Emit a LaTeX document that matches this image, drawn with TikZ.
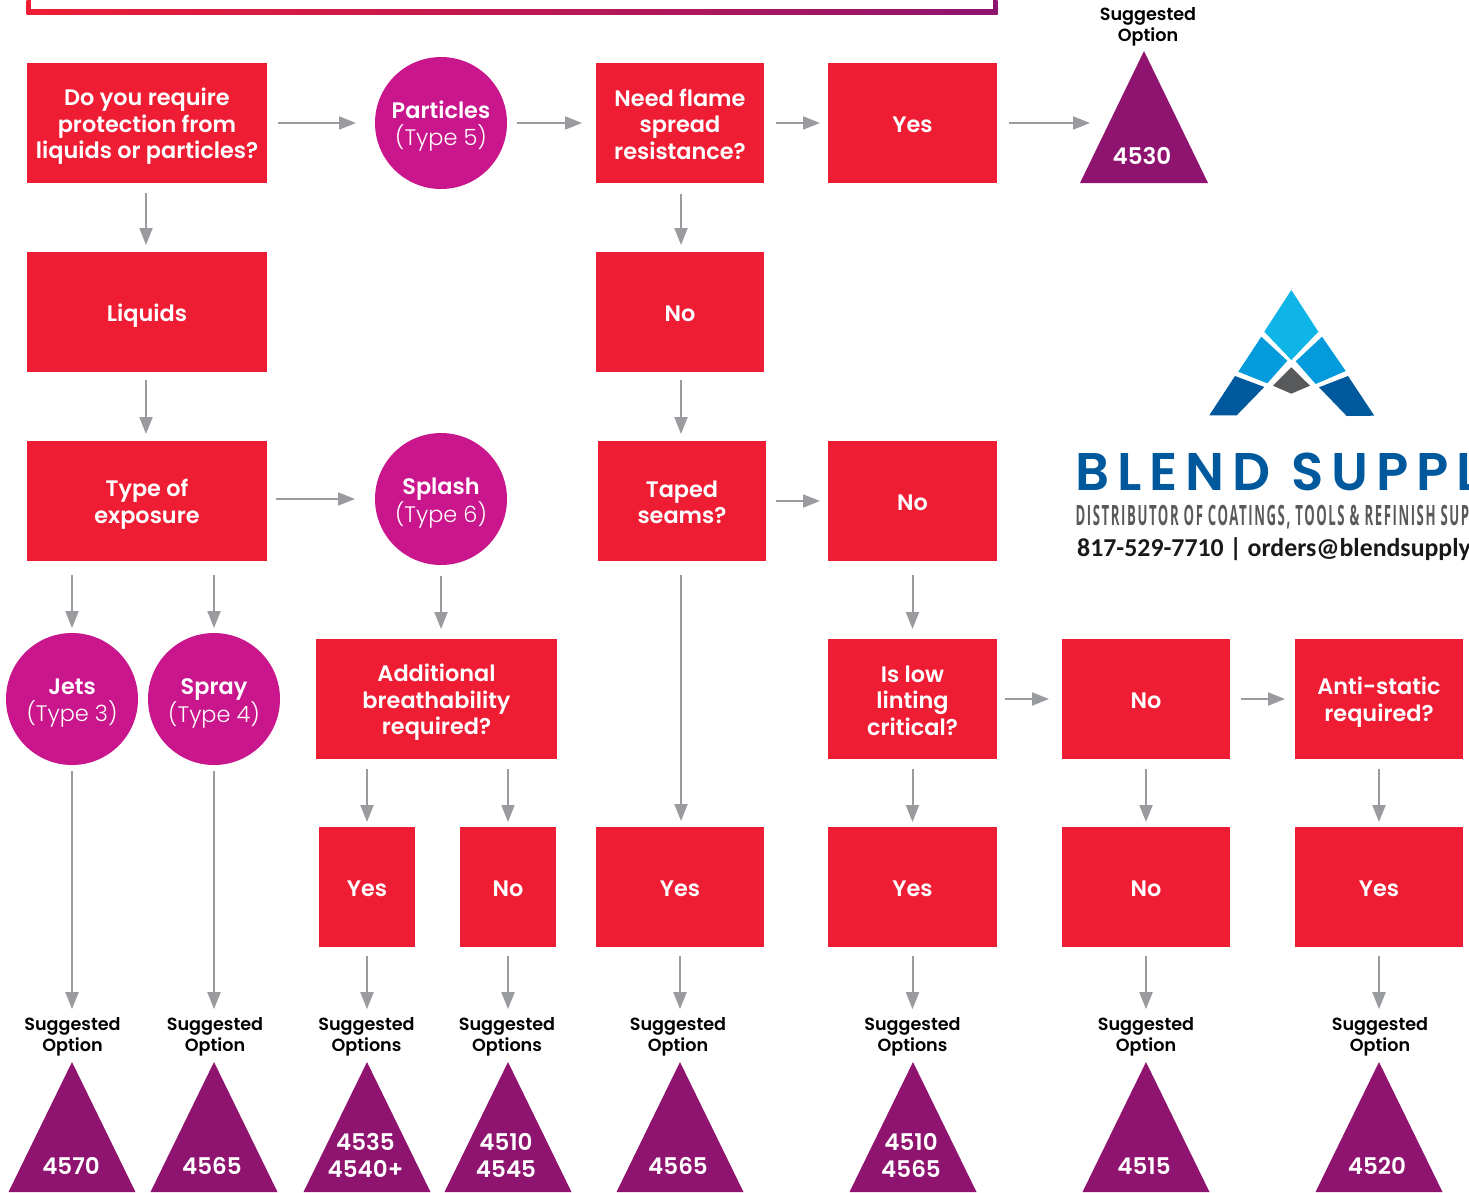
\documentclass[tikz,border=0pt]{standalone}
\usepackage{fontspec}
\usetikzlibrary{arrows.meta}
\setmainfont{Poppins}[BoldFont={Poppins SemiBold}]
\newfontfamily\lightfont{Poppins Light}
\newfontfamily\logofont[LetterSpace=15]{Poppins SemiBold}
\newfontfamily\tagfont[LetterSpace=12]{Open Sans}
\newfontfamily\phonefont{Carlito}
\definecolor{redbox}{HTML}{EE1D34}
\definecolor{magcirc}{HTML}{C9168C}
\definecolor{purptri}{HTML}{8F1470}
\definecolor{arrgray}{HTML}{9A9B9E}
\definecolor{logoa}{HTML}{0FB5E6}
\definecolor{logob}{HTML}{039BDC}
\definecolor{logoc}{HTML}{00599D}
\definecolor{logod}{HTML}{58595B}
\tikzset{
 boxtxt/.style={font=\fontsize{22.4}{26.6}\selectfont\bfseries,text=white,align=center,inner sep=0pt},
 redrect/.style={fill=redbox,draw=none,inner sep=0pt,outer sep=0pt,boxtxt},
 magcircle/.style={circle,fill=magcirc,draw=none,minimum size=132pt,inner sep=0pt,outer sep=0pt,text=white,align=center,font=\fontsize{22.4}{26.6}\selectfont},
 sugg/.style={font=\fontsize{17.6}{21}\selectfont\bfseries,text=black,align=center,inner sep=0pt,outer sep=0pt},
 trinum/.style={font=\fontsize{23}{27}\selectfont\bfseries,text=white,align=center,inner sep=0pt},
 arr/.style={draw=arrgray,line width=2pt,-{Triangle[length=17pt,width=13pt]}},
}
\newcommand{\vfix}[1]{\rule{0pt}{24.2pt}#1\rule[-5pt]{0pt}{5pt}}
\newcommand{\rbox}[6]{\node[redrect,minimum width=#4pt-#3pt,minimum height=#6pt-#5pt] (#1) at ({(#3+#4)/2},{(#5+#6)/2}) {\vfix{#2}};}
\newcommand{\tribot}[1]{\fill[purptri] (#1,1062) -- ({#1+63.5},1192) -- ({#1-63.5},1192) -- cycle;}
\begin{document}
\begin{tikzpicture}[x=1pt,y=-1pt]
\useasboundingbox (0,0) rectangle (1469,1192);
% gradient frame
\begin{scope}
\clip (0,0) rectangle (1469,1192);
\shade[left color=redbox,right color=purptri] (26.5,-10) rectangle (997.5,14.7);
\fill[white] (31.3,-10) rectangle (992.7,9);
\end{scope}
% boxes
\rbox{q1}{Do you require\\protection from\\liquids or particles?}{27}{267}{63}{183}
\rbox{liq}{Liquids}{27}{267}{252}{372}
\rbox{type}{Type of\\exposure}{27}{267}{441}{561}
\rbox{flame}{Need flame\\spread\\resistance?}{596}{764}{63}{183}
\rbox{yesa}{Yes}{828}{997}{63}{183}
\rbox{noa}{No}{596}{764}{252}{372}
\rbox{taped}{Taped\\seams?}{598}{766}{441}{561}
\rbox{nob}{No}{828}{997}{441}{561}
\rbox{addb}{Additional\\breathability\\required?}{316}{557}{639}{759}
\rbox{lint}{Is low\\linting\\critical?}{828}{997}{639}{759}
\rbox{noc}{No}{1062}{1230}{639}{759}
\rbox{anti}{Anti-static\\required?}{1295}{1463}{639}{759}
\rbox{yesb}{Yes}{319}{415}{827}{947}
\rbox{nod}{No}{460}{556}{827}{947}
\rbox{yesc}{Yes}{596}{764}{827}{947}
\rbox{yesd}{Yes}{828}{997}{827}{947}
\rbox{noe}{No}{1062}{1230}{827}{947}
\rbox{yese}{Yes}{1295}{1463}{827}{947}
% circles
\node[magcircle] (part) at (441,123) {\vfix{\textbf{Particles}\\{\lightfont (Type 5)}}};
\node[magcircle] (splash) at (441,499) {\vfix{\textbf{Splash}\\{\lightfont (Type 6)}}};
\node[magcircle] (jets) at (72,699) {\vfix{\textbf{Jets}\\{\lightfont (Type 3)}}};
\node[magcircle] (spray) at (214,699) {\vfix{\textbf{Spray}\\{\lightfont (Type 4)}}};
% triangles
\fill[purptri] (1144,51) -- (1208,183) -- (1080,183) -- cycle;
\coordinate (tria) at (1109,123);
\tribot{72}\tribot{214}\tribot{367}\tribot{508}\tribot{680}\tribot{913}\tribot{1146}\tribot{1379}
\node[trinum] (na) at (1142,156) {4530};
\node[trinum] (nb) at (71,1166) {4570};
\node[trinum] (nc) at (212,1166) {4565};
\node[trinum] (nd) at (365.5,1155) {4535\\4540+};
\node[trinum] (ne) at (506,1155) {4510\\4545};
\node[trinum] (nf) at (678,1166) {4565};
\node[trinum] (ng) at (911,1155) {4510\\4565};
\node[trinum] (nh) at (1144,1166) {4515};
\node[trinum] (ni) at (1377,1166) {4520};
% suggestions
\node[sugg] (sa) at (1148,27) {Suggested\\Option};
\node[sugg] (sb) at (72.5,1036.5) {Suggested\\Option};
\node[sugg] (sc) at (215,1036.5) {Suggested\\Option};
\node[sugg] (sd) at (366.5,1036.5) {Suggested\\Options};
\node[sugg] (se) at (507,1036.5) {Suggested\\Options};
\node[sugg] (sf) at (678,1036.5) {Suggested\\Option};
\node[sugg] (sg) at (912.5,1036.5) {Suggested\\Options};
\node[sugg] (sh) at (1146,1036.5) {Suggested\\Option};
\node[sugg] (si) at (1380,1036.5) {Suggested\\Option};
% horizontal connectors
\draw[arr,shorten <=11pt,shorten >=19pt] (q1.east) -- (part.west);
\draw[arr,shorten <=10pt,shorten >=14pt] (part.east) -- (flame.west);
\draw[arr,shorten <=12pt,shorten >=8pt] (flame.east) -- (yesa.west);
\draw[arr,shorten <=12pt,shorten >=19pt] (yesa.east) -- (tria);
\draw[arr,shorten <=9pt,shorten >=20pt] (type.east |- splash.west) -- (splash.west);
\draw[arr,shorten <=10pt,shorten >=8pt] (taped.east) -- (nob.west);
\draw[arr,shorten <=8pt,shorten >=13pt] (lint.east) -- (noc.west);
\draw[arr,shorten <=11pt,shorten >=10pt] (noc.east) -- (anti.west);
% vertical connectors
\draw[arr,shorten <=10pt,shorten >=7pt] ([xshift=-1pt]q1.south) -- ([xshift=-1pt]liq.north);
\draw[arr,shorten <=8pt,shorten >=7pt] ([xshift=-1pt]liq.south) -- ([xshift=-1pt]type.north);
\draw[arr,shorten <=11pt,shorten >=10pt] (splash.south) -- (splash.south |- addb.north);
\draw[arr,shorten <=14pt,shorten >=5pt] (jets.north |- type.south) -- (jets.north);
\draw[arr,shorten <=14pt,shorten >=5pt] (spray.north |- type.south) -- (spray.north);
\draw[arr,shorten <=6pt,shorten >=8pt] (jets.south) -- (jets.south |- sb.north);
\draw[arr,shorten <=6pt,shorten >=8pt] (spray.south) -- (spray.south |- sc.north);
\draw[arr,shorten <=10pt,shorten >=5pt] (addb.south -| yesb.north) -- (yesb.north);
\draw[arr,shorten <=10pt,shorten >=5pt] (addb.south -| nod.north) -- (nod.north);
\draw[arr,shorten <=11pt,shorten >=7pt] ([xshift=1pt]flame.south) -- ([xshift=1pt]noa.north);
\draw[arr,shorten <=8pt,shorten >=7pt] ([xshift=1pt]noa.south) -- ([xshift=-1pt]taped.north);
\draw[arr,shorten <=14pt,shorten >=6pt] ([xshift=-1pt]taped.south) -- ([xshift=1pt]yesc.north);
\draw[arr,shorten <=14pt,shorten >=10pt] (nob.south) -- (lint.north);
\draw[arr,shorten <=10pt,shorten >=5pt] (lint.south) -- (yesd.north);
\draw[arr,shorten <=10pt,shorten >=5pt] (noc.south) -- (noe.north);
\draw[arr,shorten <=10pt,shorten >=5pt] (anti.south) -- (yese.north);
\draw[arr,shorten <=9pt,shorten >=8pt] (yesb.south) -- (yesb.south |- sd.north);
\draw[arr,shorten <=9pt,shorten >=8pt] (nod.south) -- (nod.south |- se.north);
\draw[arr,shorten <=9pt,shorten >=8pt] (yesc.south) -- (yesc.south |- sf.north);
\draw[arr,shorten <=9pt,shorten >=8pt] (yesd.south) -- (yesd.south |- sg.north);
\draw[arr,shorten <=9pt,shorten >=8pt] (noe.south) -- (noe.south |- sh.north);
\draw[arr,shorten <=9pt,shorten >=8pt] (yese.south) -- (yese.south |- si.north);
% logo
\fill[logoa] (1291.3,290) -- (1318.3,331.7) -- (1291.3,360) -- (1264.3,331.7) -- cycle;
\fill[logob] (1261.3,336.7) -- (1287.3,360.7) -- (1267.3,383.3) -- (1238.3,371.7) -- cycle;
\fill[logob] (1322,336.7) -- (1345.7,371) -- (1315.7,384) -- (1295.7,361.3) -- cycle;
\fill[logod] (1291.3,367.3) -- (1310,385.7) -- (1291.3,393.7) -- (1273,385.7) -- cycle;
\fill[logoc] (1235,376) -- (1264.3,387) -- (1236.7,415.3) -- (1209.3,415.3) -- cycle;
\fill[logoc] (1348,376) -- (1374.3,415.7) -- (1346.7,416) -- (1319,387.3) -- cycle;
\begin{scope}
\clip (0,0) rectangle (1469,1192);
\node[anchor=base west,inner sep=0pt,text=logoc,font=\logofont\fontsize{53}{53}\selectfont] (brand) at (1075,490) {BLEND SUPPLY};
\node[anchor=base west,inner sep=0pt,text=logod,xscale=0.47,font=\tagfont\fontsize{28}{28}\selectfont\bfseries] (tagl) at (1075.5,525) {DISTRIBUTOR OF COATINGS, TOOLS \& REFINISH SUPPLIES};
\node[anchor=base west,inner sep=0pt,text=black!90,font=\phonefont\fontsize{25.8}{26}\selectfont\bfseries] (phone) at (1077,556) {817-529-7710 | orders@blendsupply.com};
\end{scope}
\end{tikzpicture}
\end{document}
